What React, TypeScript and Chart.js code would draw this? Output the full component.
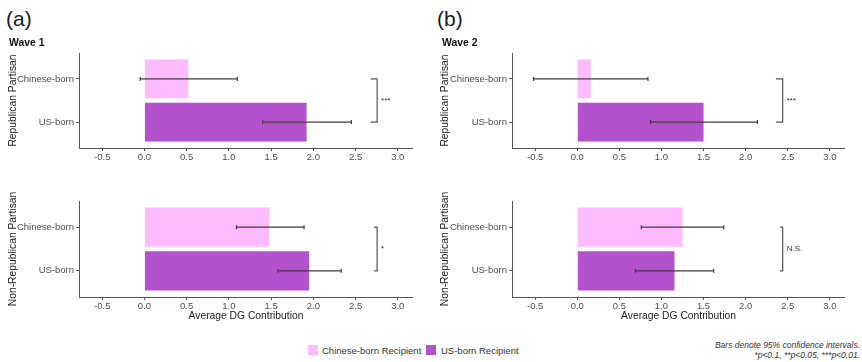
import React, { useEffect, useRef } from "react";
import { Chart, registerables } from "chart.js";

Chart.register(...registerables);

// ---------- data ----------
const categories = ["Chinese-born", "US-born"];
const xTickValues = [-0.5, 0, 0.5, 1, 1.5, 2, 2.5, 3];
const xMin = -0.775;
const xMax = 3.18;

const wave1RepMeans = [0.52, 1.92];
const wave1RepLow = [-0.05, 1.4];
const wave1RepHigh = [1.1, 2.45];

const wave1NonMeans = [1.48, 1.95];
const wave1NonLow = [1.09, 1.58];
const wave1NonHigh = [1.89, 2.33];

const wave2RepMeans = [0.16, 1.5];
const wave2RepLow = [-0.52, 0.87];
const wave2RepHigh = [0.84, 2.14];

const wave2NonMeans = [1.25, 1.155];
const wave2NonLow = [0.76, 0.69];
const wave2NonHigh = [1.74, 1.62];

const sigLabels = ["***", "*", "***", "N.S."];
const bracketValues = [2.755, 2.755, 2.44, 2.44];
const bracketTickValues = [2.68, 2.72, 2.36, 2.41];

const barColors = ["#FFBBFF", "#B452CD"];
const legendLabels = ["Chinese-born Recipient", "US-born Recipient"];

const FONT = "'Liberation Sans', Arial, Helvetica, sans-serif";
const AXIS_COLOR = "#555555";
const TEXT_COLOR = "#4d4d4d";
const PAD_TOP = 14;

type Panel = {
  left: number;
  plotTop: number;
  width: number;
  height: number;
  yAxisW: number;
  xAxisH: number;
  yTitle: string;
  yTitlePad: number;
  xTitle: string | null;
  means: number[];
  low: number[];
  high: number[];
  sig: string;
  bracket: number;
  bracketTick: number;
};

const panels: Panel[] = [
  {
    left: 0, plotTop: 53, width: 413, height: 117, yAxisW: 79, xAxisH: 22,
    yTitle: "Republican Partisan", yTitlePad: 6.5, xTitle: null,
    means: wave1RepMeans, low: wave1RepLow, high: wave1RepHigh,
    sig: sigLabels[0], bracket: bracketValues[0], bracketTick: bracketTickValues[0],
  },
  {
    left: 0, plotTop: 201, width: 413, height: 121, yAxisW: 79, xAxisH: 25,
    yTitle: "Non-Republican Partisan", yTitlePad: 6.5, xTitle: "Average DG Contribution",
    means: wave1NonMeans, low: wave1NonLow, high: wave1NonHigh,
    sig: sigLabels[1], bracket: bracketValues[1], bracketTick: bracketTickValues[1],
  },
  {
    left: 430, plotTop: 53, width: 415, height: 117, yAxisW: 82, xAxisH: 22,
    yTitle: "Republican Partisan", yTitlePad: 8.8, xTitle: null,
    means: wave2RepMeans, low: wave2RepLow, high: wave2RepHigh,
    sig: sigLabels[2], bracket: bracketValues[2], bracketTick: bracketTickValues[2],
  },
  {
    left: 430, plotTop: 201, width: 415, height: 121, yAxisW: 82, xAxisH: 25,
    yTitle: "Non-Republican Partisan", yTitlePad: 8.8, xTitle: "Average DG Contribution",
    means: wave2NonMeans, low: wave2NonLow, high: wave2NonHigh,
    sig: sigLabels[3], bracket: bracketValues[3], bracketTick: bracketTickValues[3],
  },
];

function makeAnnotPlugin(p: Panel) {
  return {
    id: "annot",
    afterDatasetsDraw(chart: any) {
      const { ctx } = chart;
      const x = chart.scales.x;
      const y = chart.scales.y;
      ctx.save();
      // 95% CI error bars
      ctx.strokeStyle = "#3d3d3d";
      ctx.lineWidth = 1.2;
      p.low.forEach((lo, i) => {
        const yy = y.getPixelForValue(i + 1);
        const x1 = x.getPixelForValue(lo);
        const x2 = x.getPixelForValue(p.high[i]);
        ctx.beginPath();
        ctx.moveTo(x1, yy);
        ctx.lineTo(x2, yy);
        ctx.moveTo(x1, yy - 2);
        ctx.lineTo(x1, yy + 2);
        ctx.moveTo(x2, yy - 2);
        ctx.lineTo(x2, yy + 2);
        ctx.stroke();
      });
      // significance bracket
      const bx = x.getPixelForValue(p.bracket);
      const bt = x.getPixelForValue(p.bracketTick);
      const y1 = y.getPixelForValue(1);
      const y2 = y.getPixelForValue(2);
      ctx.strokeStyle = AXIS_COLOR;
      ctx.lineWidth = 1.2;
      ctx.beginPath();
      ctx.moveTo(bt, y1);
      ctx.lineTo(bx, y1);
      ctx.lineTo(bx, y2);
      ctx.lineTo(bt, y2);
      ctx.stroke();
      ctx.fillStyle = "#333333";
      ctx.font = `8px ${FONT}`;
      ctx.textAlign = "left";
      ctx.textBaseline = "middle";
      ctx.fillText(p.sig, bx + 4, (y1 + y2) / 2);
      ctx.restore();
    },
  };
}

function PanelChart({ p }: { p: Panel }) {
  const ref = useRef<HTMLCanvasElement | null>(null);
  const h = p.height + PAD_TOP;
  useEffect(() => {
    if (!ref.current) return;
    const chart = new Chart(ref.current, {
      type: "bar",
      data: {
        datasets: [
          {
            data: p.means.map((v, i) => ({ x: v, y: i + 1 })) as any,
            backgroundColor: barColors,
            borderWidth: 0,
            barPercentage: 0.9,
            categoryPercentage: 1,
          },
        ],
      },
      options: {
        indexAxis: "y",
        animation: false,
        responsive: false,
        maintainAspectRatio: false,
        layout: { padding: { top: PAD_TOP, left: 0, right: 0, bottom: 0 } },
        plugins: { legend: { display: false }, tooltip: { enabled: false } },
        scales: {
          x: {
            type: "linear",
            min: xMin,
            max: xMax,
            afterBuildTicks: (s: any) => {
              s.ticks = xTickValues.map((v) => ({ value: v }));
            },
            afterFit: (s: any) => {
              s.height = p.xAxisH;
              s.paddingLeft = 0;
              s.paddingRight = 0;
            },
            ticks: {
              autoSkip: false,
              maxRotation: 0,
              padding: 1,
              color: TEXT_COLOR,
              font: { family: FONT, size: 9.5 },
              callback: (v: any) => Number(v).toFixed(1),
            },
            grid: {
              display: true,
              drawOnChartArea: false,
              drawTicks: true,
              tickLength: 3,
              color: AXIS_COLOR,
            },
            border: { display: true, color: AXIS_COLOR, width: 1 },
            title: {
              display: !!p.xTitle,
              text: p.xTitle || "",
              color: "#222222",
              font: { family: FONT, size: 10.3 },
              padding: { top: 0, bottom: 0 },
            },
          },
          y: {
            type: "linear",
            reverse: true,
            offset: false,
            min: 0.4,
            max: 2.6,
            afterBuildTicks: (s: any) => {
              s.ticks = categories.map((_, i) => ({ value: i + 1 }));
            },
            afterFit: (s: any) => {
              s.width = p.yAxisW;
              s.paddingTop = 0;
              s.paddingBottom = 0;
            },
            ticks: {
              autoSkip: false,
              padding: 2,
              color: TEXT_COLOR,
              font: { family: FONT, size: 9.5 },
              callback: (_v: any, i: number) => categories[i],
            },
            grid: {
              display: true,
              offset: false,
              drawOnChartArea: false,
              drawTicks: true,
              tickLength: 3,
              color: AXIS_COLOR,
            },
            border: { display: true, color: AXIS_COLOR, width: 1 },
            title: {
              display: true,
              text: p.yTitle,
              color: "#222222",
              font: { family: FONT, size: 10.3 },
              padding: { top: p.yTitlePad, bottom: 0 },
            },
          },
        },
      } as any,
      plugins: [makeAnnotPlugin(p)],
    });
    return () => chart.destroy();
  }, [p]);
  return (
    <canvas
      ref={ref}
      width={p.width}
      height={h}
      style={{
        position: "absolute",
        left: p.left,
        top: p.plotTop - PAD_TOP,
        width: p.width,
        height: h,
        display: "block",
      }}
    />
  );
}

function Label({ x, y, size, text, bold, italic, color, align }: any) {
  return (
    <div
      style={{
        position: "absolute",
        left: align === "right" ? undefined : x,
        right: align === "right" ? 862 - x : undefined,
        top: y - size / 2,
        fontFamily: FONT,
        fontSize: size,
        lineHeight: `${size}px`,
        fontWeight: bold ? 700 : 400,
        fontStyle: italic ? "italic" : "normal",
        color: color || "#222",
        whiteSpace: "nowrap",
        textAlign: align === "right" ? "right" : "left",
      }}
    >
      {text}
    </div>
  );
}

export default function App() {
  return (
    <div
      style={{
        position: "absolute",
        left: 0,
        top: 0,
        width: 862,
        height: 362,
        background: "#ffffff",
        overflow: "hidden",
      }}
    >
      {panels.map((p, i) => (
        <PanelChart key={i} p={p} />
      ))}
      <Label x={6} y={18} size={21} text="(a)" color="#1a1a1a" />
      <Label x={437} y={18} size={21} text="(b)" color="#1a1a1a" />
      <Label x={9} y={43} size={10.4} text="Wave 1" bold color="#111" />
      <Label x={442} y={43} size={10.4} text="Wave 2" bold color="#111" />
      <div style={{ position: "absolute", left: 308, top: 345, width: 10, height: 10, background: barColors[0] }} />
      <Label x={322} y={350.5} size={9.5} text={legendLabels[0]} color="#333" />
      <div style={{ position: "absolute", left: 426, top: 345, width: 10, height: 10, background: barColors[1] }} />
      <Label x={441} y={350.5} size={9.5} text={legendLabels[1]} color="#333" />
      <Label x={860} y={345.5} size={8.5} italic align="right" color="#333" text="Bars denote 95% confidence intervals." />
      <Label x={860} y={355.5} size={8.5} italic align="right" color="#333" text="*p<0.1, **p<0.05, ***p<0.01." />
    </div>
  );
}
